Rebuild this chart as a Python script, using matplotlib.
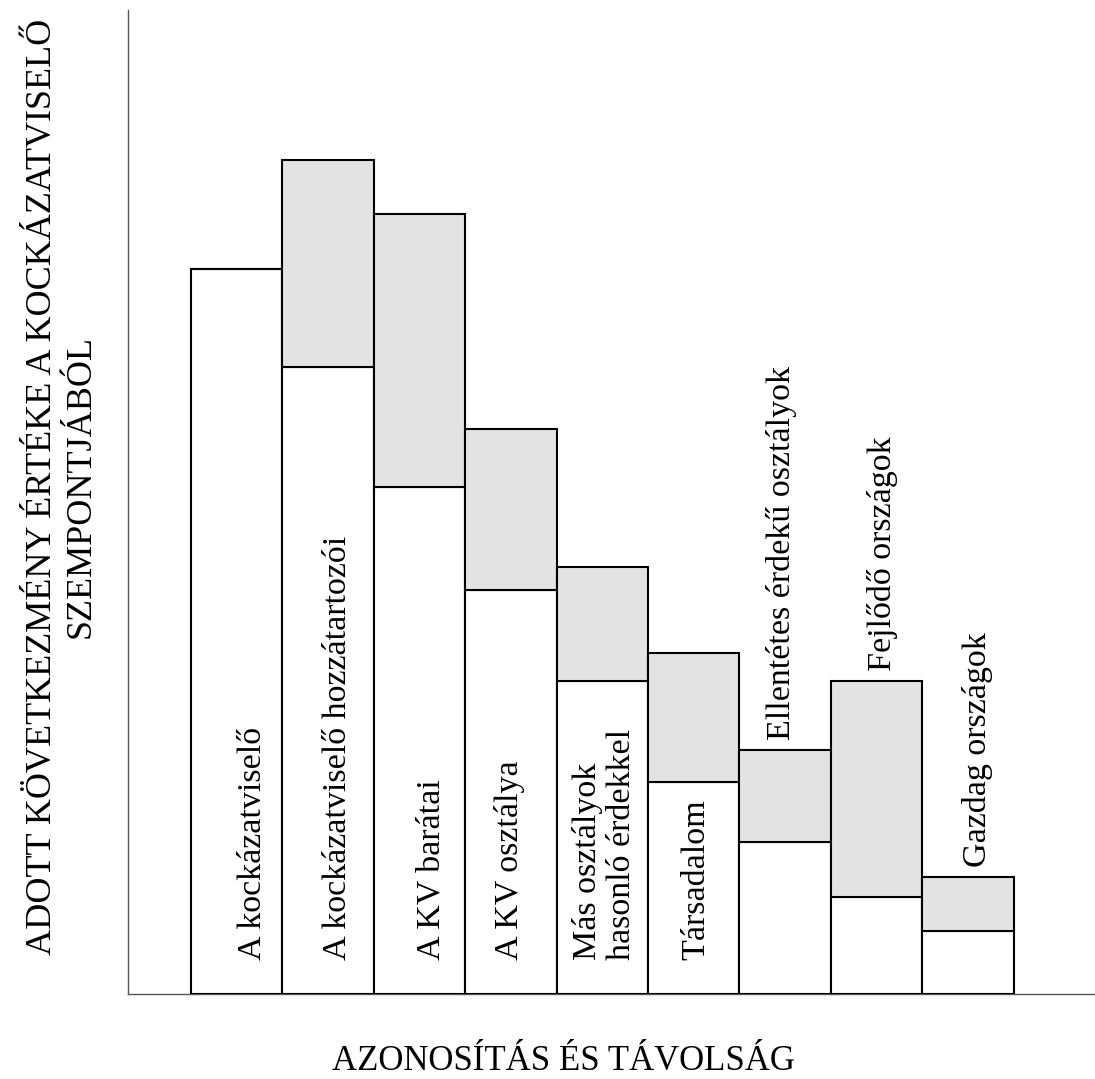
import matplotlib
matplotlib.use('Agg')
import matplotlib.pyplot as plt

# data (axis top = 100)
labels = ['A kockázatviselő', 'A kockázatviselő hozzátartozói', 'A KV barátai',
          'A KV osztálya', 'Más osztályok\nhasonló érdekkel', 'Társadalom',
          'Ellentétes érdekű osztályok', 'Fejlődő országok', 'Gazdag országok']
white_part = [73.7, 63.7, 51.5, 41.1, 31.8, 21.5, 15.4, 9.9, 6.4]
total_height = [73.7, 84.8, 79.3, 57.4, 43.4, 34.7, 24.8, 31.8, 11.9]
label_inside = [True, True, True, True, True, True, False, False, False]

plt.rcParams['font.family'] = ['Liberation Serif', 'DejaVu Serif']

fig = plt.figure(figsize=(10.95, 10.79), dpi=100)
ax = fig.add_axes([128 / 1095, 1 - 994 / 1079, 1 - 128 / 1095, 984 / 1079])

x = list(range(len(labels)))
gray_part = [t - w for t, w in zip(total_height, white_part)]

ax.bar(x, white_part, width=1.0, color='white', edgecolor='black', linewidth=1.5, zorder=3)
ax.bar(x, gray_part, bottom=white_part, width=1.0, color='#e3e3e3',
       edgecolor='black', linewidth=1.5, zorder=3)

# small sideways nudges of the rotated labels, in bar units
label_dx = [0.18, 0.11, 0.13, -0.02, 0.02, 0.03, -0.04, 0.06, 0.1]
for i, lab in enumerate(labels):
    if label_inside[i]:
        y0 = 3.5
    else:
        y0 = total_height[i] + 1.0
    ax.text(i + label_dx[i], y0, lab, rotation=90, ha='center', va='bottom',
            multialignment='left', fontsize=24.5, linespacing=1.15, zorder=4)

ax.set_xlim(-1.19, 9.39)
ax.set_ylim(0, 100)
ax.set_xticks([])
ax.set_yticks([])
for s in ['top', 'right']:
    ax.spines[s].set_visible(False)
for s in ['left', 'bottom']:
    ax.spines[s].set_color('#555555')
    ax.spines[s].set_linewidth(1.0)

fig.text(62 / 1095, 1 - 487 / 1079,
         'ADOTT KÖVETKEZMÉNY ÉRTÉKE A KOCKÁZATVISELŐ\nSZEMPONTJÁBÓL',
         rotation=90, ha='center', va='center', fontsize=26, linespacing=1.2)
fig.text(563 / 1095, 1 - 1062 / 1079, 'AZONOSÍTÁS ÉS TÁVOLSÁG',
         ha='center', va='center', fontsize=25)

fig.savefig('out.png', dpi=100)
